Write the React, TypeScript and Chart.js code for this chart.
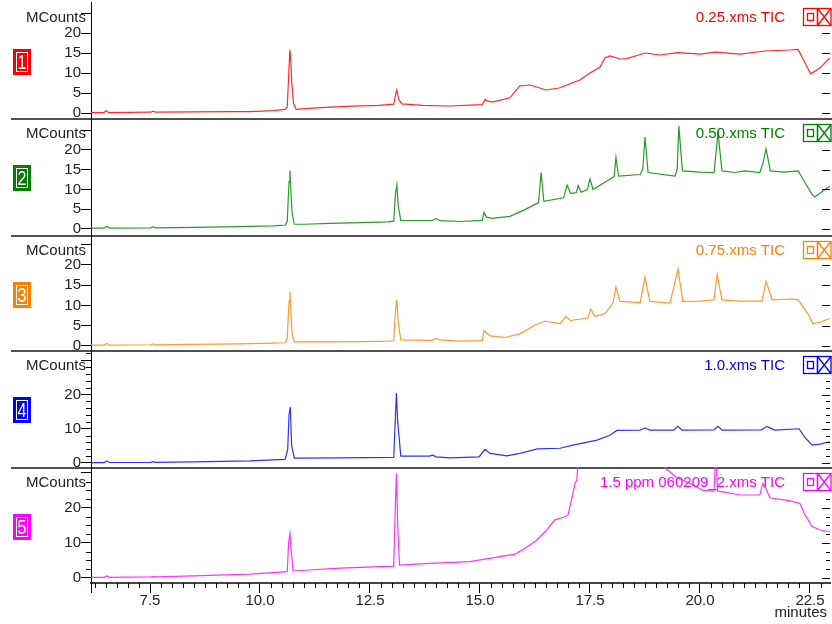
import { useEffect, useRef } from "react";
import { Chart, registerables } from "chart.js";

Chart.register(...registerables);

const FONT = "'Liberation Sans', Arial, sans-serif";

// ---- data: [minutes, MCounts] ----
const tic025: [number, number][] = [
  [6.16, 0.1], [6.45, 0.1], [6.5, 0.6], [6.56, 0.1], [7.0, 0.15], [7.52, 0.2], [7.57, 0.45], [7.62, 0.2],
  [8.5, 0.3], [9.4, 0.35], [9.77, 0.35], [10.3, 0.6], [10.57, 0.9], [10.62, 1.5], [10.65, 9], [10.68, 15.75],
  [10.7, 13], [10.72, 8], [10.76, 2.5], [10.82, 0.9], [11.02, 1.1], [11.5, 1.4], [12.1, 1.7], [12.7, 1.9],
  [13.04, 2.2], [13.08, 4.5], [13.11, 5.75], [13.15, 3.5], [13.22, 2.3], [13.7, 1.9], [14.3, 1.75], [15.05, 2.1],
  [15.12, 3.4], [15.2, 2.9], [15.3, 2.8], [15.68, 3.8], [15.9, 6.75], [16.14, 7.0], [16.5, 5.75], [16.8, 6.25],
  [17.27, 8.25], [17.5, 10], [17.73, 11.5], [17.84, 13.75], [17.95, 14.25], [18.19, 13.5], [18.34, 13.6],
  [18.75, 15], [19.09, 14.5], [19.5, 15.1], [20.0, 14.7], [20.36, 15.2], [20.91, 14.7], [21.48, 15.5],
  [22.05, 15.75], [22.23, 15.9], [22.32, 14], [22.41, 12], [22.52, 9.8], [22.73, 11.3], [22.95, 13.75],
];

const tic050: [number, number][] = [
  [6.16, 0.2], [6.46, 0.2], [6.52, 0.7], [6.58, 0.2], [7.52, 0.3], [7.57, 0.6], [7.62, 0.3], [8.5, 0.4],
  [9.5, 0.6], [10.3, 0.8], [10.58, 1.0], [10.62, 2], [10.66, 12], [10.68, 14.8], [10.7, 10], [10.73, 4],
  [10.78, 1.2], [11.0, 1.2], [11.6, 1.4], [12.3, 1.6], [12.9, 1.8], [13.04, 2.0], [13.08, 9], [13.11, 11.2],
  [13.14, 6], [13.2, 2.2], [13.9, 2.1], [14.0, 2.6], [14.1, 2.1], [14.55, 1.9], [15.05, 2.2], [15.09, 4.2],
  [15.15, 3], [15.27, 2.7], [15.68, 3.2], [16.02, 4.9], [16.33, 6.7], [16.39, 14.3], [16.45, 7], [16.9, 7.9],
  [16.98, 11.1], [17.06, 9], [17.19, 9.2], [17.23, 11], [17.3, 9.3], [17.44, 10], [17.5, 12.7], [17.57, 10],
  [17.95, 12.6], [18.05, 13.3], [18.09, 18.1], [18.15, 13.4], [18.64, 13.8], [18.7, 15.1], [18.75, 23.3],
  [18.82, 14.3], [19.43, 13.4], [19.48, 15], [19.52, 26.1], [19.6, 14.7], [20.0, 14.4], [20.32, 14.3],
  [20.41, 24.4], [20.5, 14.7], [20.8, 14.3], [21.02, 14.7], [21.36, 14.3], [21.44, 17], [21.5, 20.3],
  [21.6, 14.7], [21.9, 14.4], [22.23, 14.7], [22.39, 11.7], [22.55, 8.7], [22.61, 8.1], [22.84, 10], [22.95, 10.8],
];

const tic075: [number, number][] = [
  [6.16, 0.2], [6.46, 0.2], [6.52, 0.6], [6.58, 0.2], [7.52, 0.3], [7.57, 0.5], [7.62, 0.3], [8.5, 0.4],
  [9.5, 0.5], [10.3, 0.7], [10.58, 0.8], [10.62, 2], [10.66, 11], [10.68, 13.4], [10.7, 9], [10.73, 3],
  [10.78, 1.0], [11.5, 1.0], [12.3, 1.1], [12.9, 1.2], [13.04, 1.3], [13.08, 9], [13.11, 11.4], [13.14, 6],
  [13.2, 1.5], [13.9, 1.4], [14.0, 1.9], [14.09, 1.5], [14.55, 1.2], [15.05, 1.3], [15.09, 3.8], [15.23, 2.5],
  [15.57, 2.1], [15.91, 3.0], [16.25, 5.2], [16.48, 6.1], [16.82, 5.5], [16.95, 7.3], [17.05, 6.3], [17.45, 6.9],
  [17.52, 9.1], [17.61, 7.3], [17.84, 8.0], [18.02, 10.6], [18.09, 14.5], [18.18, 11], [18.64, 10.7],
  [18.75, 17], [18.86, 11], [19.32, 10.6], [19.5, 19], [19.61, 11], [20.0, 11.1], [20.32, 11.4], [20.39, 17.7],
  [20.5, 11.4], [20.91, 11.1], [21.41, 11.1], [21.5, 16], [21.64, 11.4], [22.11, 11.6], [22.23, 11.4],
  [22.45, 8], [22.57, 5.5], [22.73, 5.9], [22.95, 6.8],
];

const tic100: [number, number][] = [
  [6.16, 0.1], [6.46, 0.1], [6.52, 0.6], [6.58, 0.15], [7.52, 0.2], [7.57, 0.4], [7.62, 0.2], [8.5, 0.3],
  [9.77, 0.6], [10.57, 1.07], [10.63, 4], [10.66, 14], [10.69, 16.3], [10.72, 5], [10.78, 1.4], [11.82, 1.5],
  [13.04, 1.65], [13.08, 14], [13.1, 20.4], [13.13, 12], [13.2, 2.0], [13.85, 2.0], [13.93, 2.3], [14.0, 1.8],
  [14.32, 1.5], [14.98, 1.8], [15.11, 4.0], [15.23, 2.8], [15.61, 2.1], [15.91, 2.8], [16.3, 4.1], [16.82, 4.3],
  [17.11, 5.2], [17.66, 6.7], [17.95, 8.1], [18.11, 9.5], [18.64, 9.6], [18.75, 10.2], [18.86, 9.6], [19.4, 9.6],
  [19.5, 10.7], [19.59, 9.6], [20.32, 9.7], [20.41, 10.7], [20.5, 9.6], [21.4, 9.7], [21.52, 10.7], [21.7, 9.6],
  [22.25, 10], [22.39, 7.4], [22.55, 5.2], [22.73, 5.5], [22.95, 6.2],
];

const tic150: [number, number][] = [
  [6.16, 0.2], [6.46, 0.2], [6.52, 0.6], [6.58, 0.2], [7.52, 0.3], [7.57, 0.4], [7.62, 0.3], [8.5, 0.6],
  [9.77, 1.1], [10.62, 1.8], [10.65, 10], [10.68, 12.8], [10.71, 8], [10.75, 2], [11.82, 2.8], [13.04, 3.4],
  [13.07, 18], [13.1, 29.9], [13.13, 15], [13.17, 3.7], [13.86, 4.2], [14.77, 4.7], [15.45, 6.1], [15.8, 6.8],
  [16.02, 8.5], [16.25, 10.4], [16.48, 13.2], [16.7, 16.6], [16.93, 17.5], [17.0, 18], [17.09, 22.9],
  [17.16, 27], [17.2, 28], [17.25, 36], [17.5, 42], [18.5, 42], [19.0, 36], [19.18, 31.7], [19.45, 28.9],
  [19.84, 26.6], [20.07, 25], [20.32, 24.8], [20.36, 36], [20.4, 24.8], [20.52, 24.6], [20.91, 23.7],
  [21.36, 23.7], [21.43, 27], [21.5, 25.5], [21.59, 22.9], [22.05, 22], [22.27, 21.3], [22.39, 18],
  [22.55, 14.7], [22.73, 13.7], [22.95, 13.2],
];

const traceTitles = ["0.25.xms TIC", "0.50.xms TIC", "0.75.xms TIC", "1.0.xms TIC", "1.5 ppm 060209_2.xms TIC"];
const panelNumbers = ["1", "2", "3", "4", "5"];
const xMin = 6.159;
const xMax = 22.955;
const xMajorStep = 2.5;
const xMinorStep = 0.25;
const yLabelLimit = 20;

type PanelDef = {
  data: [number, number][];
  title: string;
  num: string;
  color: string;
  line: string;
  areaTop: number;
  areaBottom: number;
  yMin: number;
  yMax: number;
  major: number;
  minor: number;
  showX: boolean;
};

const PANELS: PanelDef[] = [
  { data: tic025, title: traceTitles[0], num: panelNumbers[0], color: "#ff0000", line: "#ff2a2a", areaTop: 2, areaBottom: 118, yMin: -1.25, yMax: 27.75, major: 5, minor: 0, showX: false },
  { data: tic050, title: traceTitles[1], num: panelNumbers[1], color: "#008000", line: "#2a9a2a", areaTop: 118, areaBottom: 235, yMin: -1.52, yMax: 28.1, major: 5, minor: 0, showX: false },
  { data: tic075, title: traceTitles[2], num: panelNumbers[2], color: "#ff8000", line: "#ff9933", areaTop: 235, areaBottom: 350, yMin: -0.99, yMax: 27.4, major: 5, minor: 0, showX: false },
  { data: tic100, title: traceTitles[3], num: panelNumbers[3], color: "#0000ff", line: "#3030ff", areaTop: 350, areaBottom: 467, yMin: -1.17, yMax: 33.0, major: 10, minor: 2, showX: false },
  { data: tic150, title: traceTitles[4], num: panelNumbers[4], color: "#ff00ff", line: "#ff33ff", areaTop: 467, areaBottom: 583, yMin: -1.43, yMax: 31.7, major: 10, minor: 2.5, showX: true },
];

const W = 832;
const H = 624;

function isMultiple(v: number, step: number) {
  const r = v / step;
  return Math.abs(r - Math.round(r)) < 1e-6;
}

function Panel({ p, idx }: { p: PanelDef; idx: number }) {
  const ref = useRef<HTMLCanvasElement>(null);
  const canvasTop = idx === 0 ? 0 : p.areaTop;
  const padTop = p.areaTop - canvasTop;
  const canvasH = p.showX ? H - canvasTop : p.areaBottom - canvasTop + 3;
  const padBottom = p.showX ? 0 : 3;
  const xHeight = H - p.areaBottom;

  useEffect(() => {
    if (!ref.current) return;
    const deco = {
      id: "deco" + idx,
      afterDraw(chart: any) {
        const { ctx, chartArea: a } = chart;
        const ys = chart.scales.y;
        const xs = chart.scales.x;
        ctx.save();
        // y minor / right-side ticks
        ctx.strokeStyle = "#000";
        ctx.lineWidth = 1;
        ctx.beginPath();
        if (p.minor > 0) {
          for (let v = 0; v < p.yMax; v += p.minor) {
            if (isMultiple(v, p.major)) continue;
            const py = Math.round(ys.getPixelForValue(v)) + 0.5;
            if (py < a.top) continue;
            ctx.moveTo(a.left - 5, py);
            ctx.lineTo(a.left, py);
            if (py > a.top + 27) {
              ctx.moveTo(a.right - 4, py);
              ctx.lineTo(a.right, py);
            }
          }
        }
        for (let v = 0; v < p.yMax; v += p.major) {
          const py = Math.round(ys.getPixelForValue(v)) + 0.5;
          if (py > a.top + 27) {
            ctx.moveTo(a.right - 8, py);
            ctx.lineTo(a.right, py);
          }
        }
        ctx.stroke();

        // separator / x extras
        if (!p.showX) {
          ctx.fillStyle = "#505050";
          ctx.fillRect(11, a.bottom, W - 11, 2);
        } else {
          ctx.beginPath();
          for (let v = Math.ceil(xMin / xMinorStep) * xMinorStep; v <= xMax; v += xMinorStep) {
            if (isMultiple(v, xMajorStep)) continue;
            const px = Math.round(xs.getPixelForValue(v)) + 0.5;
            ctx.moveTo(px, a.bottom);
            ctx.lineTo(px, a.bottom + 5);
          }
          ctx.moveTo(a.left + 0.5, a.bottom);
          ctx.lineTo(a.left + 0.5, a.bottom + 10);
          ctx.stroke();
          ctx.fillStyle = "#222";
          ctx.font = `15px ${FONT}`;
          ctx.textAlign = "right";
          ctx.textBaseline = "middle";
          ctx.fillText("minutes", 827, a.bottom + 30);
        }

        // MCounts
        ctx.fillStyle = "#222";
        ctx.font = `15px ${FONT}`;
        ctx.textAlign = "right";
        ctx.textBaseline = "middle";
        ctx.fillText("MCounts", 86, a.top + 16);

        // title
        ctx.fillStyle = p.color;
        ctx.fillText(p.title, 785, a.top + 15.5);

        // icons
        const iy = a.top + 6;
        ctx.strokeStyle = p.color;
        ctx.lineWidth = 1.3;
        ctx.strokeRect(803.5, iy + 0.5, 14, 17);
        ctx.strokeRect(817.5, iy + 0.5, 13.5, 17);
        ctx.strokeRect(807.5, iy + 5.5, 6, 7);
        ctx.beginPath();
        ctx.moveTo(817.5, iy + 0.5);
        ctx.lineTo(831, iy + 17.5);
        ctx.moveTo(831, iy + 0.5);
        ctx.lineTo(817.5, iy + 17.5);
        ctx.stroke();

        // panel number box
        const bx = 13, by = a.top + 47, bw = 18, bh = 26;
        ctx.fillStyle = p.color;
        ctx.fillRect(bx, by, bw, bh);
        ctx.strokeStyle = "#ffffff";
        ctx.lineWidth = 1;
        ctx.strokeRect(bx + 3.5, by + 3.5, bw - 7, bh - 7);
        ctx.save();
        ctx.translate(bx + bw / 2, by + bh / 2 + 1);
        ctx.scale(0.8, 1);
        ctx.fillStyle = "#ffffff";
        ctx.textAlign = "center";
        ctx.textBaseline = "middle";
        ctx.font = `20px ${FONT}`;
        ctx.fillText(p.num, 0, 0);
        ctx.restore();

        ctx.restore();
      },
    };

    const chart = new Chart(ref.current, {
      type: "line",
      data: {
        datasets: [
          {
            data: p.data.map(([x, y]) => ({ x, y })),
            borderColor: p.line,
            borderWidth: 1.2,
            pointRadius: 0,
            tension: 0,
            fill: false,
          },
        ],
      },
      options: {
        animation: false,
        responsive: false,
        maintainAspectRatio: false,
        devicePixelRatio: 1,
        events: [],
        layout: { padding: { top: padTop, bottom: padBottom, left: 0, right: 2 } },
        plugins: { legend: { display: false }, tooltip: { enabled: false }, title: { display: false } },
        scales: {
          x: {
            type: "linear",
            min: xMin,
            max: xMax,
            display: p.showX,
            afterFit: (s: any) => {
              if (!p.showX) return;
              s.height = xHeight;
              s.paddingLeft = 0;
              s.paddingRight = 0;
            },
            ticks: {
              stepSize: xMajorStep,
              includeBounds: false,
              autoSkip: false,
              maxRotation: 0,
              padding: 0,
              color: "#222",
              font: { family: FONT, size: 15, lineHeight: 1 },
              callback: (v: any) => Number(v).toFixed(1),
            },
            grid: { display: true, drawOnChartArea: false, drawTicks: true, tickLength: 10, color: "#000" },
            border: { display: true, color: "#444", width: 2 },
          },
          y: {
            type: "linear",
            min: p.yMin,
            max: p.yMax,
            afterFit: (s: any) => {
              s.width = 91;
              s.paddingTop = 0;
              s.paddingBottom = 0;
            },
            ticks: {
              stepSize: p.major,
              includeBounds: false,
              autoSkip: false,
              padding: 0,
              color: "#222",
              font: { family: FONT, size: 15 },
              callback: (v: any) => (Number(v) <= yLabelLimit ? String(v) : ""),
            },
            grid: { display: true, drawOnChartArea: false, drawTicks: true, tickLength: 10, color: "#000" },
            border: { display: true, color: "#000", width: 1 },
          },
        },
      },
      plugins: [deco],
    } as any);
    return () => chart.destroy();
  }, []);

  return (
    <canvas
      ref={ref}
      width={W}
      height={canvasH}
      style={{ position: "absolute", left: 0, top: canvasTop, width: W, height: canvasH }}
    />
  );
}

export default function App() {
  return (
    <div
      style={{ position: "fixed", left: 0, top: 0, width: W, height: H, background: "#fff", overflow: "hidden" }}
    >
      {PANELS.map((p, i) => (
        <Panel key={i} p={p} idx={i} />
      ))}
    </div>
  );
}
